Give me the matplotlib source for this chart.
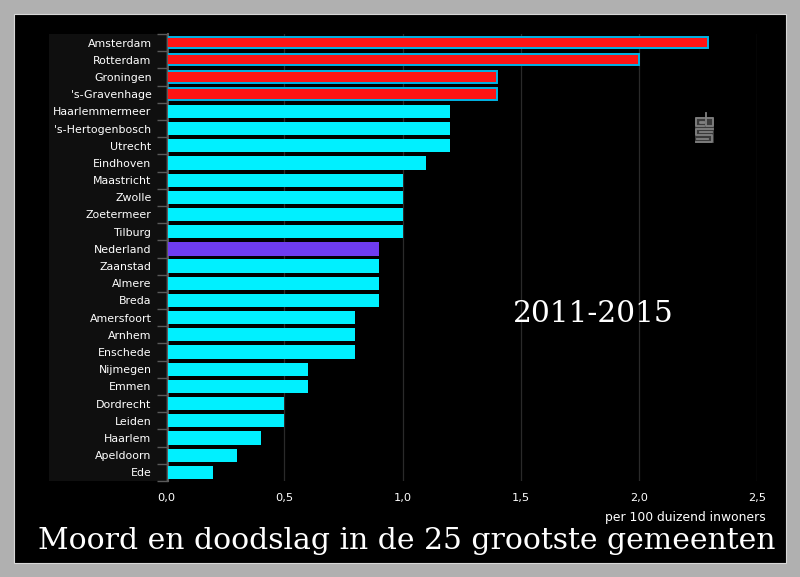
import matplotlib
matplotlib.use("Agg")
import matplotlib.pyplot as plt
from matplotlib.patches import Rectangle
from matplotlib.lines import Line2D
from matplotlib.transforms import offset_copy

categories = ["Amsterdam", "Rotterdam", "Groningen", "'s-Gravenhage", "Haarlemmermeer",
              "'s-Hertogenbosch", "Utrecht", "Eindhoven", "Maastricht", "Zwolle",
              "Zoetermeer", "Tilburg", "Nederland", "Zaanstad", "Almere", "Breda",
              "Amersfoort", "Arnhem", "Enschede", "Nijmegen", "Emmen", "Dordrecht",
              "Leiden", "Haarlem", "Apeldoorn", "Ede"]
values = [2.29, 2.0, 1.4, 1.4, 1.2, 1.2, 1.2, 1.1, 1.0, 1.0, 1.0, 1.0, 0.9,
          0.9, 0.9, 0.9, 0.8, 0.8, 0.8, 0.6, 0.6, 0.5, 0.5, 0.4, 0.3, 0.2]
highlight = ["Amsterdam", "Rotterdam", "Groningen", "'s-Gravenhage"]
national = "Nederland"
x_ticks = [0.0, 0.5, 1.0, 1.5, 2.0, 2.5]
x_ticklabels = ["0,0", "0,5", "1,0", "1,5", "2,0", "2,5"]

W, H = 800, 577
def fx(px): return px / W
def fy(py): return 1 - py / H

fig = plt.figure(figsize=(W / 100, H / 100), dpi=100, facecolor="#b0b0b0")
fig.add_artist(Rectangle((fx(14), fy(563)), 772 / W, 549 / H, transform=fig.transFigure,
                         facecolor="black", edgecolor="#d8d8d8", linewidth=0.8, zorder=-3))
fig.add_artist(Rectangle((fx(49), fy(481)), 119 / W, 447 / H, transform=fig.transFigure,
                         facecolor="#0f0f0f", edgecolor="none", zorder=-2))

ax = fig.add_axes([fx(166.2), fy(481), 591 / W, 447 / H])
ax.set_facecolor("none")
ax.set_xlim(0, 2.5)
ax.set_ylim(len(categories) - 0.5, -0.5)

clip = Rectangle((fx(168), fy(481)), 600 / W, 447 / H, transform=fig.transFigure)
for i, (c, v) in enumerate(zip(categories, values)):
    if c in highlight:
        bars = ax.barh(i, v, height=0.66, color="#ff1414", edgecolor="#00b4e6", linewidth=1.4, zorder=3)
    elif c == national:
        bars = ax.barh(i, v, height=0.77, color="#6e3cf0", edgecolor="none", zorder=3)
    else:
        bars = ax.barh(i, v, height=0.77, color="#00f0ff", edgecolor="none", zorder=3)
    bars[0].set_clip_path(clip)

for side in ["top", "right", "bottom"]:
    ax.spines[side].set_visible(False)
ax.spines["left"].set_color("#5a5a5a")
ax.spines["left"].set_linewidth(1.5)
ax.spines["left"].set_position(("outward", -1.3))

ax.set_xticks(x_ticks)
ax.set_xticklabels(x_ticklabels, color="white", fontsize=8.2)
ax.tick_params(axis="x", length=0, pad=9)
for lab in ax.get_xticklabels():
    lab.set_x(lab.get_position()[0])
ax.xaxis.grid(True, color="#2a2a2a", linewidth=0.9, zorder=0)
ax.set_axisbelow(True)

ax.set_yticks([i + 0.5 for i in range(-1, len(categories))])
ax.set_yticklabels([])
ax.tick_params(axis="y", length=8, width=1, color="#5a5a5a")
label_tr = offset_copy(ax.transData, fig=fig, x=-10.5, y=-0.7, units="points")
for i, c in enumerate(categories):
    ax.text(0, i, c, color="white", fontsize=7.9, ha="right", va="center",
            transform=label_tr, clip_on=False)

fig.text(fx(766), fy(518), "per 100 duizend inwoners", color="white", fontsize=8.9,
         ha="right", va="center")
fig.text(fx(593), fy(314), "2011-2015", color="white", family="DejaVu Serif",
         fontsize=21.3, ha="center", va="center")
fig.text(fx(406.5), fy(541), "Moord en doodslag in de 25 grootste gemeenten", color="white",
         family="DejaVu Serif", fontsize=21.5, ha="center", va="center")

# CBS logo
logo = "#808080"
fig.add_artist(Rectangle((fx(695), fy(143)), 19 / W, 26 / H, transform=fig.transFigure,
                         facecolor="#3a3a3a", edgecolor="none", zorder=1))
for xs, ys in [((704, 696, 696, 704), (118, 118, 126, 126)),
               ((704, 700, 700, 704), (122, 122, 123, 123)),
               ((706, 706, 713, 713, 706), (113, 126, 126, 118, 118)),
               ((713, 696, 696, 712, 712, 696), (129, 129, 135, 135, 142, 142)),
               ((700, 712), (132, 132)),
               ((697, 708), (138.5, 138.5))]:
    fig.add_artist(Line2D([fx(p) for p in xs], [fy(p) for p in ys], color=logo,
                          linewidth=1.3, transform=fig.transFigure, zorder=2))

fig.savefig("out.png", dpi=100, facecolor=fig.get_facecolor())
